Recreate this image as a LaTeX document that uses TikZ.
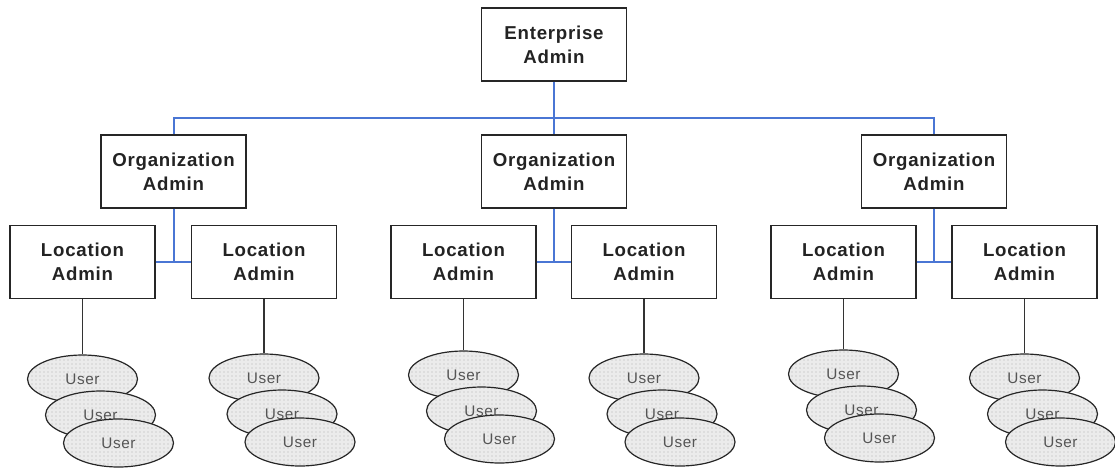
\documentclass[tikz,border=0pt]{standalone}
\usepackage{fontspec}
\setmainfont{Liberation Sans}
\newfontfamily\widesans[LetterSpace=4]{Liberation Sans}
\usepackage{tikz}
\usetikzlibrary{shapes.geometric,patterns}

\definecolor{linkblue}{RGB}{74,118,212}
\definecolor{boxtext}{RGB}{35,35,35}
\definecolor{usertext}{RGB}{85,85,85}

\begin{document}
\begin{tikzpicture}[
  x=0.75pt, y=-0.75pt,
  admin/.style={draw=black!85, line width=1.1pt, fill=white, minimum width=108.75pt,
                minimum height=54.75pt, inner sep=0pt, align=center,
                font=\widesans\fontsize{14}{18}\selectfont\bfseries, text=boxtext},
  user/.style={ellipse, draw=black!85, line width=0.9pt, minimum width=82.5pt,
               minimum height=36pt, inner sep=0pt, preaction={fill=black!8},
               pattern=dots, pattern color=black!30,
               font=\widesans\fontsize{11.5}{13}\selectfont, text=usertext},
  link/.style={draw=linkblue, line width=1.5pt},
  drop/.style={draw=black!80, line width=0.9pt}]
  \useasboundingbox (0,0) rectangle (1115,472);

  % admin levels
  \node[admin] (ent) at (554,44.5) {Enterprise\\Admin};
  \node[admin] (org1) at (173.5,171.5) {Organization\\Admin};
  \node[admin] (org2) at (554,171.5) {Organization\\Admin};
  \node[admin] (org3) at (934,171.5) {Organization\\Admin};
  \node[admin] (loc1) at (82.5,262) {Location\\Admin};
  \node[admin] (loc2) at (264,262) {Location\\Admin};
  \node[admin] (loc3) at (463.5,262) {Location\\Admin};
  \node[admin] (loc4) at (644,262) {Location\\Admin};
  \node[admin] (loc5) at (843.5,262) {Location\\Admin};
  \node[admin] (loc6) at (1024.5,262) {Location\\Admin};
  \coordinate (bus) at (554,118);

  % blue tree lines
  \draw[link] (ent) -- (bus);
  \draw[link] (bus) -- (org2);
  \draw[link] (org1) |- (bus) -| (org3);
  \draw[link] (org1) -- (org1 |- loc1);
  \draw[link] (org2) -- (org2 |- loc3);
  \draw[link] (org3) -- (org3 |- loc5);
  \draw[link] (loc1) -- (loc2);
  \draw[link] (loc3) -- (loc4);
  \draw[link] (loc5) -- (loc6);

  % stacked users under each location
  \foreach \l/\d in {1/117,2/116,3/113,4/116,5/112,6/116}{
    \path (loc\l.center) ++(0,\d) node[user] (u\l a) {User}
          ++(18,36) node[user] (u\l b) {User}
          ++(18,28) node[user] (u\l c) {User};
    \draw[drop] (loc\l) -- (u\l a);
  }
\end{tikzpicture}
\end{document}
